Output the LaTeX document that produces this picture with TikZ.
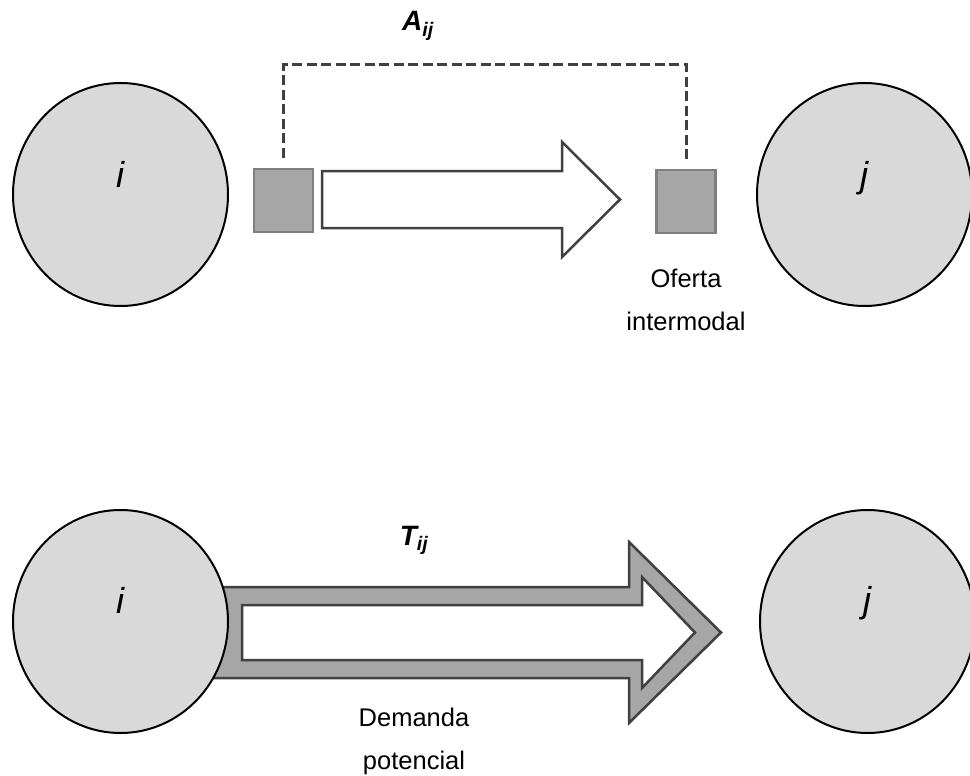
\documentclass[tikz,border=0pt]{standalone}
\usepackage{fontspec}
\setmainfont{Liberation Sans}
\usetikzlibrary{shapes.geometric}
\definecolor{circfill}{HTML}{D9D9D9}
\definecolor{boxfill}{HTML}{A6A6A6}
\definecolor{boxline}{HTML}{7F7F7F}
\definecolor{darkline}{HTML}{404040}
\begin{document}
\begin{tikzpicture}[x=1pt,y=-1pt,
  zone/.style={ellipse, draw=black, line width=2pt, fill=circfill, minimum width=215pt, minimum height=223pt, inner sep=0pt},
  sq/.style={rectangle, draw=boxline, line width=2.2pt, fill=boxfill, minimum width=59pt, minimum height=63pt, inner sep=0pt},
  lbl/.style={font=\fontsize{36}{40}\selectfont\itshape, inner sep=0pt},
  captext/.style={font=\fontsize{25.5}{43}\selectfont, align=center, inner sep=0pt},
  sym/.style={font=\fontsize{28}{32}\selectfont\bfseries\itshape, inner sep=0pt},
  conn/.style={draw=darkline, line width=3pt, dash pattern=on 10pt off 4.5pt},
  arrowline/.style={draw=darkline, line width=2.5pt, line join=miter}
]
\useasboundingbox (0,0) rectangle (970,776);
% bottom (demand) arrow, drawn first so the circle covers its tail
\path[arrowline, fill=boxfill] (200,587) -- (629,587) -- (629,542) -- (721,632.5) -- (629,723) -- (629,678) -- (200,678) -- cycle;
\path[arrowline, fill=white] (242,605) -- (642,605) -- (642,577) -- (695,632.5) -- (642,688) -- (642,660) -- (242,660) -- cycle;
% top (supply) arrow
\path[arrowline, fill=white] (322,171) -- (562,171) -- (562,142) -- (620,199.5) -- (562,257) -- (562,228) -- (322,228) -- cycle;
% zones
\node[zone] (i1) at (120.5,194.5) {};
\node[zone] (j1) at (864.5,194.5) {};
\node[zone] (i2) at (120.5,621.5) {};
\node[zone] (j2) at (867.5,621.5) {};
\node[lbl, anchor=base] (i1t) at (120,187) {i};
\node[lbl, anchor=base] (j1t) at (864,187) {j};
\node[lbl, anchor=base] (i2t) at (120,613) {i};
\node[lbl, anchor=base] (j2t) at (867,612) {j};
% terminals
\node[sq] (sqL) at (283.5,200.5) {};
\node[sq] (sqR) at (686,201.5) {};
\draw[conn, shorten <=10pt, shorten >=10pt] (sqL.north) -- ++(0,-103) -| (sqR.north);
% labels
\node[sym, anchor=base] (A) at (418,31) {A\textsubscript{ij}};
\node[sym, anchor=base] (T) at (414,545) {T\textsubscript{ij}};
\node[captext, anchor=north] (of) at (686,269) {Oferta\\intermodal};
\node[captext, anchor=north] (dem) at (414,708) {Demanda\\potencial};
\end{tikzpicture}
\end{document}
